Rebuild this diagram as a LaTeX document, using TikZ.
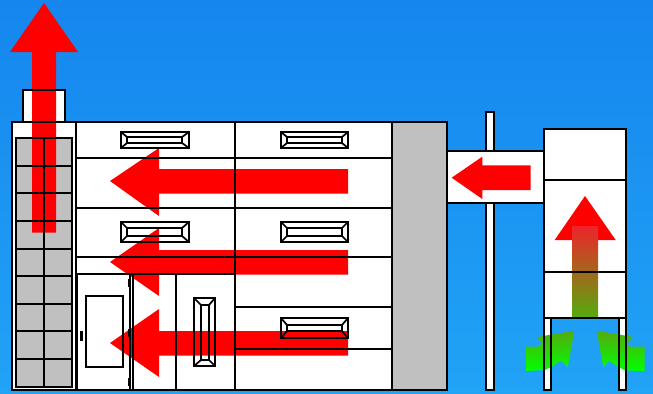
\documentclass[tikz,border=0pt]{standalone}
\usetikzlibrary{calc}
\definecolor{bgTR}{RGB}{21,134,238}
\definecolor{bgBL}{RGB}{33,163,246}
\definecolor{panelgrey}{RGB}{192,192,192}
\definecolor{arrowred}{RGB}{255,0,0}
\definecolor{shaftTop}{RGB}{238,36,42}
\definecolor{shaftBot}{RGB}{85,172,14}
\definecolor{greenTop}{RGB}{85,170,15}
\definecolor{greenBot}{RGB}{0,255,0}
\tikzset{
  x=0.75pt,y=-0.75pt,
  redarrow/.style={fill=arrowred,draw=none},
  ink/.style={draw=black,line width=1.3pt,line join=miter},
  hwblock/.style={fill=black,draw=none}
}
\newcommand{\ventlines}[8]{%
  \draw[ink] (#1,#2) rectangle (#3,#4);
  \draw[ink] (#5,#6) rectangle (#7,#8);
  \draw[ink] (#1,#2) -- (#5,#6) (#3,#2) -- (#7,#6) (#1,#4) -- (#5,#8) (#3,#4) -- (#7,#8);}
\begin{document}
\begin{tikzpicture}
\useasboundingbox (0,0) rectangle (653,393);
\shade[shading angle=-20,bottom color=bgBL,top color=bgTR] (0,0) rectangle (653,393);
% white and grey fills
\fill[white] (12,122) rectangle (76,390);
\fill[panelgrey] (16,138) rectangle (72,387);
\fill[white] (23,90) rectangle (65,122);
\fill[white] (76,122) rectangle (392,390);
\fill[panelgrey] (392,122) rectangle (447,390);
\fill[white] (486,112) rectangle (494,390);
\fill[white] (447,151) rectangle (544,203);
\fill[white] (544,129) rectangle (626,318);
\fill[white] (544,318) rectangle (551,390);
\fill[white] (619,318) rectangle (626,390);
% red arrows
\fill[redarrow] (44,3) -- (78,52) -- (56,52) -- (56,232.5) -- (32,232.5) -- (32,52) -- (10,52) -- cycle;
\fill[redarrow] (110,181) -- (159,148) -- (159,169) -- (348,169) -- (348,193.5) -- (159,193.5) -- (159,216) -- cycle;
\fill[redarrow] (110,262) -- (159,228) -- (159,250) -- (348,250) -- (348,274.5) -- (159,274.5) -- (159,296) -- cycle;
\fill[redarrow] (110,343) -- (159,309) -- (159,331) -- (348,331) -- (348,355.5) -- (159,355.5) -- (159,377) -- cycle;
\fill[redarrow] (451.7,177.7) -- (482.3,156.7) -- (482.3,165.3) -- (530.7,165.3) -- (530.7,190) -- (482.3,190) -- (482.3,199) -- cycle;
\fill[redarrow] (585,196) -- (615.7,240) -- (554.7,240) -- cycle;
\shade[top color=shaftTop,bottom color=shaftBot] (572,226) rectangle (598,318);
% green intake arrows
\shade[top color=greenTop,bottom color=greenBot]
  (574.3,330.7) -- (567.7,367.3) -- (561,360.7) -- (551.7,366.7) -- (545,370) -- (526,371) -- (526,346.7) -- (538.3,346.7) -- (542,343.3) -- (537.3,337) -- cycle;
\shade[top color=greenTop,bottom color=greenBot]
  (596.7,330.7) -- (633.3,337) -- (627,344) -- (630,346.7) -- (644.7,346.7) -- (644.7,371) -- (625,370.5) -- (616.7,366) -- (609.3,360.7) -- (603.3,367.3) -- cycle;
% lines
\begin{scope}[shift={(-0.5,-0.5)}]
\draw[ink] (12.5,122.5) rectangle (76.5,390.5);
\draw[ink] (16.5,138.5) rectangle (72.5,387.5);
\draw[ink] (44.5,138.5) -- (44.5,387.5);
\foreach \yy in {166.5,193.5,221.5,249.5,276.5,304.5,331.5,359.5}
  \draw[ink] (16.5,\yy) -- (72.5,\yy);
\draw[ink] (23.5,90.5) rectangle (65.5,122.5);
\draw[ink] (76.5,122.5) rectangle (392.5,390.5);
\draw[ink] (392.5,122.5) rectangle (447.5,390.5);
\draw[ink] (235.5,122.5) -- (235.5,390.5);
\draw[ink] (76.5,158.5) -- (392.5,158.5);
\draw[ink] (76.5,208.5) -- (392.5,208.5);
\draw[ink] (76.5,257.5) -- (392.5,257.5);
\draw[ink] (76.5,274.5) -- (235.5,274.5);
\draw[ink] (235.5,307.5) -- (392.5,307.5);
\draw[ink] (235.5,349.5) -- (392.5,349.5);
\ventlines{121.5}{132.5}{189.5}{148.5}{127.5}{137.5}{182.5}{143.5}
\ventlines{121.5}{222.5}{189.5}{242.5}{127.5}{228.5}{182.5}{236.5}
\ventlines{281.5}{132.5}{348.5}{148.5}{287.5}{137.5}{342.5}{143.5}
\ventlines{281.5}{222.5}{348.5}{242.5}{287.5}{228.5}{342.5}{236.5}
\ventlines{281.5}{318.5}{348.5}{338.5}{287.5}{325.5}{342.5}{331.5}
\ventlines{194.5}{298.5}{215.5}{366.5}{201.5}{305.5}{209.5}{360.5}
% doors
\draw[ink] (77.5,274.5) -- (77.5,390.5);
\draw[ink] (130.5,274.5) -- (130.5,390.5);
\draw[ink] (133.5,274.5) -- (133.5,390.5);
\draw[ink] (176.5,274.5) -- (176.5,390.5);
\draw[ink] (86.5,296.5) rectangle (123.5,367.5);
\fill[hwblock] (128,279) rectangle (131,287);
\fill[hwblock] (128,329) rectangle (131,337);
\fill[hwblock] (128,378) rectangle (131,386);
\fill[hwblock] (80,331) rectangle (83,341);
% right side
\draw[ink] (486.5,151.5) -- (486.5,112.5) -- (494.5,112.5) -- (494.5,151.5);
\draw[ink] (486.5,203.5) rectangle (494.5,390.5);
\draw[ink] (447.5,151.5) rectangle (544.5,203.5);
\draw[ink] (544.5,129.5) rectangle (626.5,318.5);
\draw[ink] (544.5,180.5) -- (626.5,180.5);
\draw[ink] (544.5,272.5) -- (626.5,272.5);
\draw[ink] (544.5,318.5) rectangle (551.5,390.5);
\draw[ink] (619.5,318.5) rectangle (626.5,390.5);
\end{scope}
\end{tikzpicture}
\end{document}
